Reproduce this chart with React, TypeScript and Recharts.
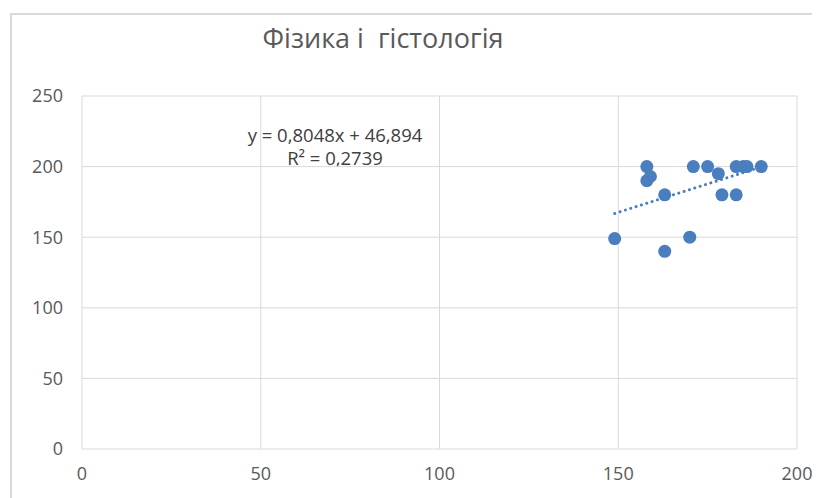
import React from 'react';
import { ScatterChart, Scatter, XAxis, YAxis, CartesianGrid } from 'recharts';

// Physics score (x) vs histology score (y)
const physics = [149, 158, 159, 158, 163, 163, 170, 171, 175, 178, 179, 183, 183, 185, 186, 190];
const histology = [149, 200, 193, 190, 180, 140, 150, 200, 200, 195, 180, 180, 200, 200, 200, 200];

// linear trendline end points (y = 0,8048x + 46,894)
const trendX = [149, 190];
const trendY = [166.8, 199.8];

const xTicks = [0, 50, 100, 150, 200];
const yTicks = [0, 50, 100, 150, 200, 250];

const points = physics.map((x, i) => ({ x, y: histology[i] }));
const trend = trendX.map((x, i) => ({ x, y: trendY[i] }));

const blue = '#4a7ebf';
const gridColor = '#d9d9d9';
const textColor = '#595959';
const font = '"Open Sans", sans-serif';

const Dot = (props: any) => <circle cx={props.cx} cy={props.cy} r={6.5} fill={blue} />;
const NoDot = () => <g />;

const App: React.FC = () => {
    return (
        <div style={{ position: 'relative', width: 812, height: 490, overflow: 'hidden', background: '#fff', fontFamily: font }}>
            <div style={{ position: 'absolute', left: 2, top: 5, width: 850, height: 520, border: `2px solid ${gridColor}` }} />
            <div style={{ position: 'absolute', left: 0, width: 750, top: 10, textAlign: 'center', fontSize: 27, lineHeight: '40px', color: textColor, whiteSpace: 'pre' }}>
                {'Фізика і  гістологія'}
            </div>
            <div style={{ position: 'absolute', left: 227, width: 200, top: 115, textAlign: 'center', fontSize: 18.5, lineHeight: '23px', color: '#404040', whiteSpace: 'nowrap' }}>
                <div>y = 0,8048x + 46,894</div>
                <div>R² = 0,2739</div>
            </div>
            <div style={{ position: 'absolute', left: 0, top: 0 }}>
                <ScatterChart width={812} height={490} margin={{ top: 88, right: 23, bottom: 19, left: 14 }}>
                    <CartesianGrid stroke={gridColor} strokeWidth={1} />
                    <XAxis
                        type="number"
                        dataKey="x"
                        domain={[0, 200]}
                        ticks={xTicks}
                        axisLine={false}
                        tickLine={false}
                        height={30}
                        tickMargin={12}
                        tick={{ fill: textColor, fontSize: 18, fontFamily: font }}
                    />
                    <YAxis
                        type="number"
                        dataKey="y"
                        domain={[0, 250]}
                        ticks={yTicks}
                        axisLine={false}
                        tickLine={false}
                        width={60}
                        tickMargin={13}
                        tick={{ fill: textColor, fontSize: 18, fontFamily: font }}
                    />
                    <Scatter data={points} shape={Dot} isAnimationActive={false} />
                    <Scatter
                        data={trend}
                        shape={NoDot}
                        line={{ stroke: blue, strokeWidth: 3, strokeDasharray: '0.1 5.5', strokeLinecap: 'round' }}
                        isAnimationActive={false}
                    />
                </ScatterChart>
            </div>
        </div>
    );
};

export default App;
